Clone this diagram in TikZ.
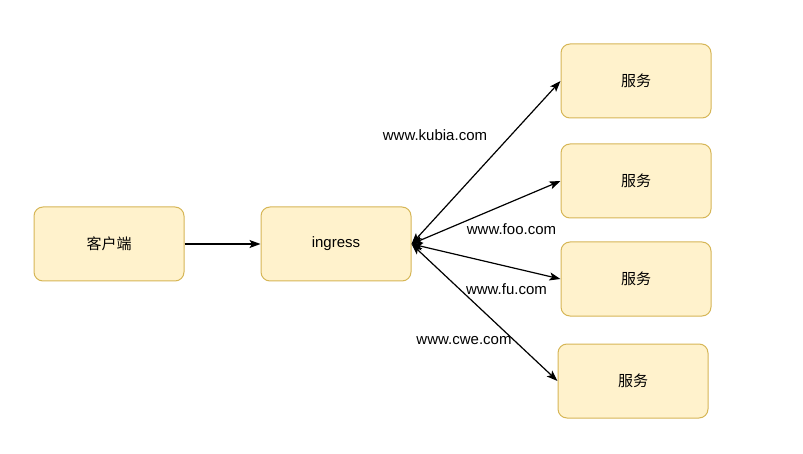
\documentclass[tikz,border=0pt]{standalone}
\usepackage{fontspec}
\setmainfont{Liberation Sans}
\newfontfamily\cjk{Noto Sans CJK SC}
\usetikzlibrary{arrows.meta}
\definecolor{boxfill}{HTML}{FFF2CC}
\definecolor{boxline}{HTML}{D6B656}
\tikzset{
  box/.style={draw=boxline, fill=boxfill, rounded corners=9pt, minimum width=150pt, minimum height=74pt, inner sep=0pt, line width=1pt, font=\fontsize{15}{18}\selectfont},
  conn/.style={line width=1.2pt, -{Stealth[length=11pt,width=8pt,inset=2.5pt]}},
  bconn/.style={line width=1.2pt, {Stealth[length=11pt,width=8pt,inset=2.5pt]}-{Stealth[length=11pt,width=8pt,inset=2.5pt]}},
  lbl/.style={font=\fontsize{15}{18}\selectfont, inner sep=0pt}
}
\begin{document}
\begin{tikzpicture}[x=1pt,y=-1pt]
\useasboundingbox (0,0) rectangle (803,454);
\node[box] (client) at (109,244) {\cjk 客户端};
\node[box] (ing) at (336,244) {\raisebox{-1.5pt}{ingress}};
\node[box] (s1) at (636,81) {\cjk 服务};
\node[box] (s2) at (636,181) {\cjk 服务};
\node[box] (s3) at (636,279) {\cjk 服务};
\node[box] (s4) at (633,381) {\cjk 服务};
\draw[conn] (client) -- (ing);
\draw[bconn] (ing.east) -- (s1.west);
\draw[bconn] (ing.east) -- (s2.west);
\draw[bconn] (ing.east) -- (s3.west);
\draw[bconn] (ing.east) -- (s4.west);
\node[lbl] (l1) at (435,135) {www.kubia.com};
\node[lbl] (l2) at (511.5,229) {www.foo.com};
\node[lbl] (l3) at (506.5,289) {www.fu.com};
\node[lbl] (l4) at (464,341) {www.cwe.com};
\end{tikzpicture}
\end{document}
